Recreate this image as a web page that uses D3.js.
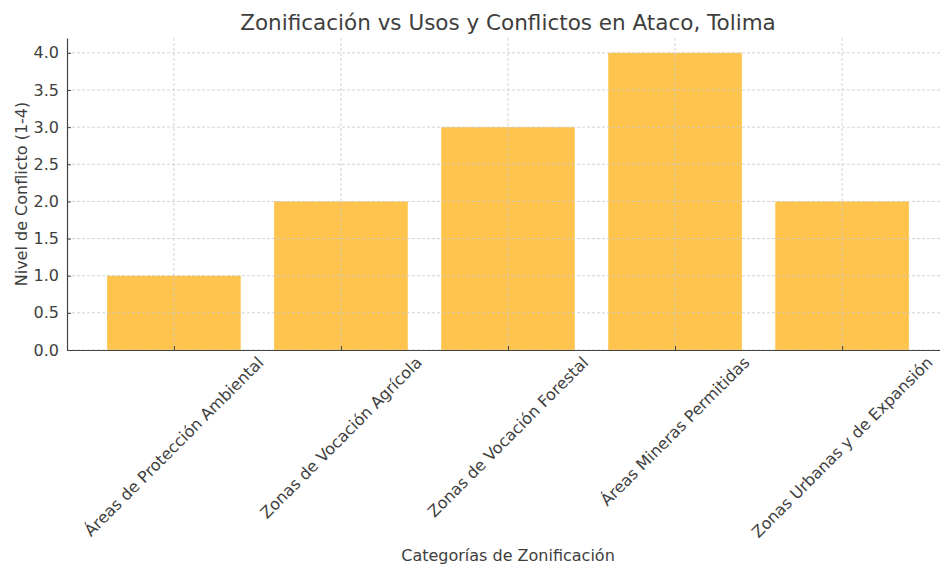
<!DOCTYPE html>
<html>
<head>
<meta charset="utf-8">
<script src="https://cdn.jsdelivr.net/npm/d3@7"></script>
<style>
  body { margin: 0; background: #fff; }
  svg { display: block; font-family: "DejaVu Sans", sans-serif; }
</style>
</head>
<body>
<svg id="chart" width="940" height="565"></svg>
<script>
// chart values
var categories = [
  'Áreas de Protección Ambiental',
  'Zonas de Vocación Agrícola',
  'Zonas de Vocación Forestal',
  'Áreas Mineras Permitidas',
  'Zonas Urbanas y de Expansión'
];
var conflictLevels = [1, 2, 3, 4, 2];
var yTicks = [0, 0.5, 1, 1.5, 2, 2.5, 3, 3.5, 4];

var svg = d3.select('#chart');
var margin = { left: 67, top: 38, bottom: 350 };
var textColor = '#3e3e3e';
var fontSize = 16;

// x: category index, matplotlib style limits (-0.64 .. 4.64)
var x = d3.scaleLinear().domain([-0.64, 4.64]).range([margin.left, 949]);
var y = d3.scaleLinear().domain([0, 4.2]).range([margin.bottom, margin.top]);
var barWidth = 0.8;

// bars
svg.append('g').selectAll('rect')
  .data(conflictLevels)
  .enter().append('rect')
  .attr('x', function (d, i) { return x(i - barWidth / 2); })
  .attr('width', function (d, i) { return x(i + barWidth / 2) - x(i - barWidth / 2); })
  .attr('y', function (d) { return y(d); })
  .attr('height', function (d) { return y(0) - y(d); })
  .attr('fill', '#FEC44D');

// grid on top of bars
var grid = svg.append('g').attr('stroke', '#c8c8c8').attr('stroke-width', 0.8)
  .attr('stroke-dasharray', '3,2');
grid.selectAll('.hgrid').data(yTicks).enter().append('line')
  .attr('x1', margin.left).attr('x2', 940)
  .attr('y1', function (d) { return y(d); }).attr('y2', function (d) { return y(d); });
grid.selectAll('.vgrid').data(categories).enter().append('line')
  .attr('x1', function (d, i) { return x(i); }).attr('x2', function (d, i) { return x(i); })
  .attr('y1', margin.top).attr('y2', margin.bottom);

// y axis
var yAxis = d3.axisLeft(y).tickValues(yTicks).tickFormat(d3.format('.1f'))
  .tickSizeInner(-4).tickSizeOuter(0).tickPadding(8);
var yg = svg.append('g').attr('transform', 'translate(' + margin.left + ',0)').call(yAxis);
yg.select('.domain').attr('stroke', '#444').attr('stroke-width', 1.2);
yg.selectAll('.tick line').attr('stroke', '#444');
yg.selectAll('.tick text').attr('fill', textColor).style('font-size', fontSize + 'px')
  .style('font-family', '"DejaVu Sans", sans-serif');

// x axis
var xAxis = d3.axisBottom(x).tickValues(d3.range(categories.length))
  .tickFormat('').tickSizeInner(-4).tickSizeOuter(0);
var xg = svg.append('g').attr('transform', 'translate(0,' + margin.bottom + ')').call(xAxis);
xg.select('.domain').attr('stroke', '#444').attr('stroke-width', 1.2);
xg.selectAll('.tick line').attr('stroke', '#444');

// rotated category labels, bbox centred under tick
var labels = svg.append('g').selectAll('text')
  .data(categories).enter().append('text')
  .attr('text-anchor', 'middle')
  .attr('dominant-baseline', 'central')
  .attr('fill', textColor)
  .style('font-size', fontSize + 'px')
  .text(function (d) { return d; });
labels.each(function (d, i) {
  var len = this.getComputedTextLength();
  var half = (len + fontSize) / (2 * Math.SQRT2);
  var cx = x(i), cy = margin.bottom + 4 + half;
  d3.select(this).attr('transform', 'translate(' + cx + ',' + cy + ') rotate(-45)');
});

// titles
svg.append('text')
  .attr('x', 508).attr('y', 30)
  .attr('text-anchor', 'middle')
  .attr('fill', textColor)
  .style('font-size', '21.5px')
  .text('Zonificación vs Usos y Conflictos en Ataco, Tolima');

svg.append('text')
  .attr('x', 508).attr('y', 561)
  .attr('text-anchor', 'middle')
  .attr('fill', textColor)
  .style('font-size', fontSize + 'px')
  .text('Categorías de Zonificación');

svg.append('text')
  .attr('transform', 'translate(27,' + ((margin.top + margin.bottom) / 2) + ') rotate(-90)')
  .attr('text-anchor', 'middle')
  .attr('fill', textColor)
  .style('font-size', fontSize + 'px')
  .text('Nivel de Conflicto (1-4)');
</script>
</body>
</html>
